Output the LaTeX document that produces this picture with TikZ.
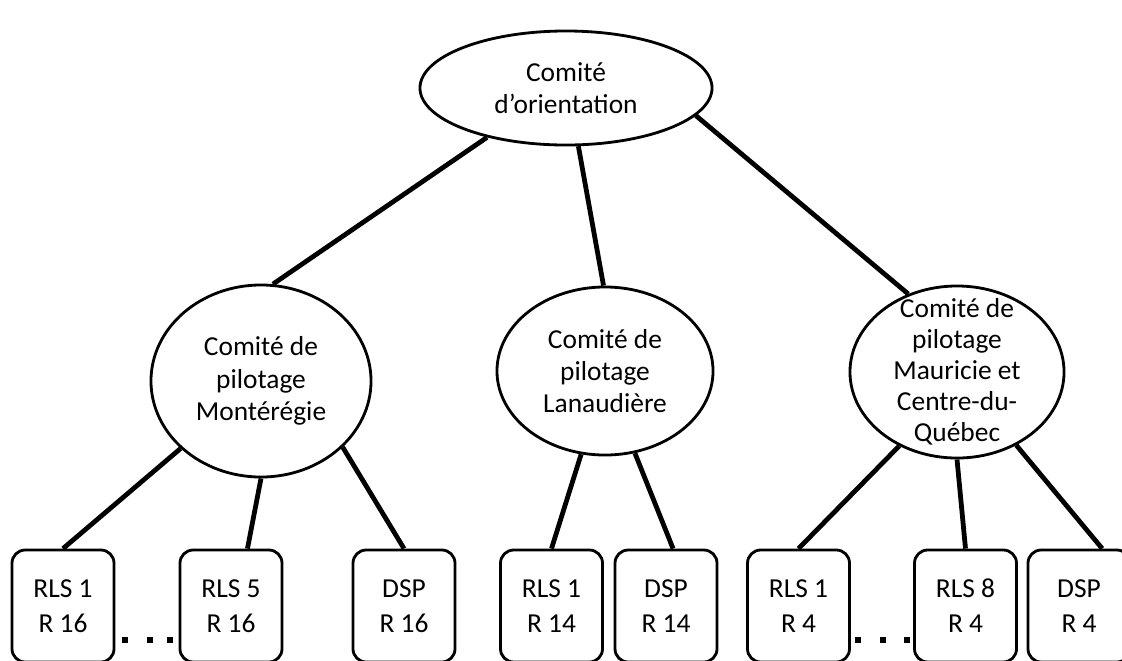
\documentclass[tikz,border=0pt]{standalone}
\usepackage{fontspec}
\setmainfont{Carlito}
\usetikzlibrary{shapes.geometric}
\begin{document}
\begin{tikzpicture}[x=0.025cm,y=-0.025cm,
  comite/.style={draw,ellipse,line width=2pt,inner sep=0pt,align=center,
    font=\fontsize{19.5}{23}\selectfont},
  unit/.style={draw,rounded corners=0.33cm,line width=2pt,inner sep=0pt,
    minimum width=2.55cm,minimum height=2.8cm,align=center,
    font=\fontsize{19.5}{25}\selectfont},
  link/.style={line width=3.4pt}]
  \useasboundingbox (0,0) rectangle (1122,660);
  % comites
  \node[comite,minimum width=7.3cm,minimum height=2.85cm] (orient) at (566,88) {Comité\\d’orientation};
  \node[comite,minimum width=5.5cm,minimum height=4.8cm] (monte) at (261,381) {Comité de\\pilotage\\Montérégie};
  \node[comite,minimum width=5.4cm,minimum height=4.2cm] (lanau) at (605,371) {Comité de\\pilotage\\Lanaudière};
  \node[comite,minimum width=5.35cm,minimum height=4.3cm,inner ysep=-11pt,
    font=\fontsize{19.5}{22}\selectfont] (mauri) at (957,372) {Comité de\\pilotage\\Mauricie et\\Centre-du-\\Québec};
  % RLS et DSP
  \node[unit] (m1) at (63,606) {RLS 1\\R 16};
  \node[unit] (m5) at (231,606) {RLS 5\\R 16};
  \node[unit] (mdsp) at (404,606) {DSP\\R 16};
  \node[unit] (l1) at (551.5,606) {RLS 1\\R 14};
  \node[unit] (ldsp) at (666,606) {DSP\\R 14};
  \node[unit] (q1) at (798.5,606) {RLS 1\\R 4};
  \node[unit] (q8) at (965.5,606) {RLS 8\\R 4};
  \node[unit] (qdsp) at (1079,606) {DSP\\R 4};
  % liens
  \draw[link] (orient.212) -- (monte.83);
  \draw[link] (orient.282) -- (lanau.91);
  \draw[link] (orient.348) -- (mauri.122);
  \draw[link] (monte.220) -- (m1.north);
  \draw[link] (monte.270) -- (m5.74);
  \draw[link] (monte.321) -- (mdsp.north);
  \draw[link] (lanau.254) -- (l1.north);
  \draw[link] (lanau.290) -- (ldsp.83);
  \draw[link] (mauri.232) -- (q1.north);
  \draw[link] (mauri.270) -- (q8.north);
  \draw[link] (mauri.309) -- (qdsp.68);
  % points de suspension
  \foreach \x in {125,150,170,858,883,907}
    \fill (\x-3,637) rectangle (\x+3,643);
\end{tikzpicture}
\end{document}
